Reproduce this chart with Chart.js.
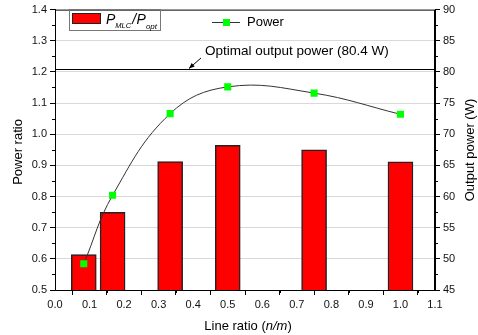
<!DOCTYPE html>
<html><head><meta charset="utf-8">
<script src="https://cdn.jsdelivr.net/npm/chart.js@4.4.1/dist/chart.umd.min.js"></script>
<style>html,body{margin:0;padding:0;background:#fff}#wrap{width:478px;height:335px}</style>
</head><body><div id="wrap"><canvas id="c" width="478" height="335"></canvas></div>
<script>
const lineRatios = [0.0833, 0.1667, 0.3333, 0.5, 0.75, 1.0];
const powerRatioValues = [0.614, 0.749, 0.912, 0.964, 0.950, 0.911];
const outputPowerValues = [49.2, 60.2, 73.3, 77.6, 76.6, 73.2];
const optimalPower = 80.4;
const annotationText = 'Optimal output power (80.4 W)';
const leftTitle = 'Power ratio';
const rightTitle = 'Output power (W)';
const FONT = "'Liberation Sans', Arial, sans-serif";

const barData = lineRatios.map((x, i) => ({x, y: powerRatioValues[i]}));
const lineData = lineRatios.map((x, i) => ({x, y: outputPowerValues[i]}));

function runs(ctx, parts, x, y) {
  // parts: [text, font, dy]
  let w = 0;
  parts.forEach(p => { ctx.font = p[1]; w += ctx.measureText(p[0]).width; });
  let tx = x - w / 2;
  parts.forEach(p => { ctx.font = p[1]; ctx.fillText(p[0], tx, y + (p[2] || 0)); tx += ctx.measureText(p[0]).width; });
}

const extras = {
  id: 'extras',
  afterDraw(chart) {
    const ctx = chart.ctx, a = chart.chartArea;
    const xs = chart.scales.x, ys = chart.scales.y, y1 = chart.scales.y1;
    ctx.save();
    ctx.strokeStyle = '#000'; ctx.lineWidth = 1;
    // frame
    ctx.strokeRect(a.left + 0.5, a.top + 0.5, a.right - a.left - 1, a.bottom - a.top);
    // minor ticks
    ctx.beginPath();
    for (let v = 0.05; v < 1.1; v += 0.1) { const p = Math.round(xs.getPixelForValue(v)) + 0.5; ctx.moveTo(p, a.bottom); ctx.lineTo(p, a.bottom + 3); }
    for (let v = 0.55; v < 1.4; v += 0.1) { const p = Math.round(ys.getPixelForValue(v)) + 0.5; ctx.moveTo(a.left, p); ctx.lineTo(a.left - 3, p); }
    for (let v = 47.5; v < 90; v += 5) { const p = Math.round(y1.getPixelForValue(v)) + 0.5; ctx.moveTo(a.right, p); ctx.lineTo(a.right + 3, p); }
    ctx.stroke();
    // optimal line
    const py = Math.round(y1.getPixelForValue(optimalPower)) + 0.5;
    ctx.beginPath(); ctx.moveTo(a.left, py); ctx.lineTo(a.right, py); ctx.stroke();
    // annotation text
    ctx.fillStyle = '#000';
    ctx.font = '13.5px ' + FONT; ctx.textBaseline = 'middle'; ctx.textAlign = 'left';
    ctx.fillText(annotationText, 205, 51);
    // arrow
    const ax0 = 201, ay0 = 58, ax1 = 189, ay1 = py - 1;
    ctx.beginPath(); ctx.moveTo(ax0, ay0); ctx.lineTo(ax1, ay1); ctx.stroke();
    const ang = Math.atan2(ay1 - ay0, ax1 - ax0);
    ctx.beginPath();
    ctx.moveTo(ax1, ay1);
    ctx.lineTo(ax1 - 6 * Math.cos(ang - 0.4), ay1 - 6 * Math.sin(ang - 0.4));
    ctx.lineTo(ax1 - 6 * Math.cos(ang + 0.4), ay1 - 6 * Math.sin(ang + 0.4));
    ctx.closePath(); ctx.fill();
    // legend 1
    ctx.strokeStyle = '#777';
    ctx.strokeRect(69.5, 9.5, 91, 21);
    ctx.fillStyle = '#ff0000'; ctx.fillRect(72, 13, 29, 11);
    ctx.strokeStyle = '#222'; ctx.strokeRect(72.5, 13.5, 28, 10);
    ctx.fillStyle = '#000';
    ctx.textBaseline = 'alphabetic';
    let tx = 106;
    ctx.font = 'italic 14px ' + FONT; ctx.fillText('P', tx, 24); tx += ctx.measureText('P').width;
    ctx.font = 'italic 7.5px ' + FONT; ctx.fillText('MLC', tx, 28); tx += ctx.measureText('MLC').width + 1;
    ctx.font = 'italic 14px ' + FONT; ctx.fillText('/', tx, 24); tx += ctx.measureText('/').width + 0.5;
    ctx.fillText('P', tx, 24); tx += ctx.measureText('P').width;
    ctx.font = 'italic 8px ' + FONT; ctx.fillText('opt', tx, 28.5);
    // legend 2
    ctx.strokeStyle = '#333';
    ctx.beginPath(); ctx.moveTo(212, 22.5); ctx.lineTo(240, 22.5); ctx.stroke();
    ctx.fillStyle = '#00ff00'; ctx.fillRect(223, 19, 7, 7);
    ctx.fillStyle = '#000'; ctx.font = '13px ' + FONT; ctx.textBaseline = 'middle';
    ctx.fillText('Power', 247, 22);
    // axis titles
    ctx.fillStyle = '#000';
    ctx.textBaseline = 'middle'; ctx.textAlign = 'center';
    ctx.save(); ctx.translate(18, 152); ctx.rotate(-Math.PI / 2);
    ctx.font = '13px ' + FONT; ctx.fillText(leftTitle, 0, 0); ctx.restore();
    ctx.save(); ctx.translate(470, 150); ctx.rotate(-Math.PI / 2);
    ctx.font = '13px ' + FONT; ctx.fillText(rightTitle, 0, 0); ctx.restore();
    ctx.textAlign = 'left';
    runs(ctx, [['Line ratio (', '13px ' + FONT], ['n', 'italic 13px ' + FONT], ['/', 'italic 13px ' + FONT], ['m', 'italic 13px ' + FONT], [')', '13px ' + FONT]], 248, 326);
    ctx.restore();
  }
};

new Chart(document.getElementById('c'), {
  type: 'bar',
  data: {
    datasets: [
      { type: 'line', label: 'Power', data: lineData, yAxisID: 'y1', xAxisID: 'x', order: 0,
        borderColor: '#333', borderWidth: 1, tension: 0.4, fill: false,
        pointStyle: 'rect', pointRadius: 5, pointBackgroundColor: '#00ff00', pointBorderColor: '#00ff00', pointBorderWidth: 0 },
      { type: 'bar', label: 'P_MLC / P_opt', data: barData, yAxisID: 'y', xAxisID: 'x', order: 1,
        backgroundColor: '#ff0000', borderColor: '#222', borderWidth: 1.5, barThickness: 25 }
    ]
  },
  options: {
    responsive: false, animation: false, devicePixelRatio: 1,
    layout: { padding: { top: 7, left: 0, right: 0, bottom: 0 } },
    plugins: { legend: { display: false }, tooltip: { enabled: false } },
    scales: {
      x: { type: 'linear', min: 0, max: 1.1, offset: false,
        ticks: { stepSize: 0.1, callback: v => Number(v).toFixed(1), color: '#111', font: { family: FONT, size: 11 }, padding: 3, maxRotation: 0, autoSkip: false },
        grid: { drawOnChartArea: false, tickLength: 5, tickColor: '#000' },
        border: { color: '#000' },
        afterFit: s => { s.height = 45; } },
      y: { position: 'left', min: 0.5, max: 1.4,
        ticks: { stepSize: 0.1, callback: v => Number(v).toFixed(1), color: '#111', font: { family: FONT, size: 11 }, padding: 3 },
        grid: { color: ctx => (ctx.tick && (ctx.tick.value > 0.51 && ctx.tick.value < 1.39)) ? '#d9d9d9' : 'transparent', tickLength: 5, tickColor: '#000' },
        border: { color: '#000' },
        afterFit: s => { s.width = 55; } },
      y1: { position: 'right', min: 45, max: 90,
        ticks: { stepSize: 5, color: '#111', font: { family: FONT, size: 11 }, padding: 3 },
        grid: { drawOnChartArea: false, tickLength: 5, tickColor: '#000' },
        border: { color: '#000' },
        afterFit: s => { s.width = 43; } }
    }
  },
  plugins: [extras]
});
</script></body></html>
